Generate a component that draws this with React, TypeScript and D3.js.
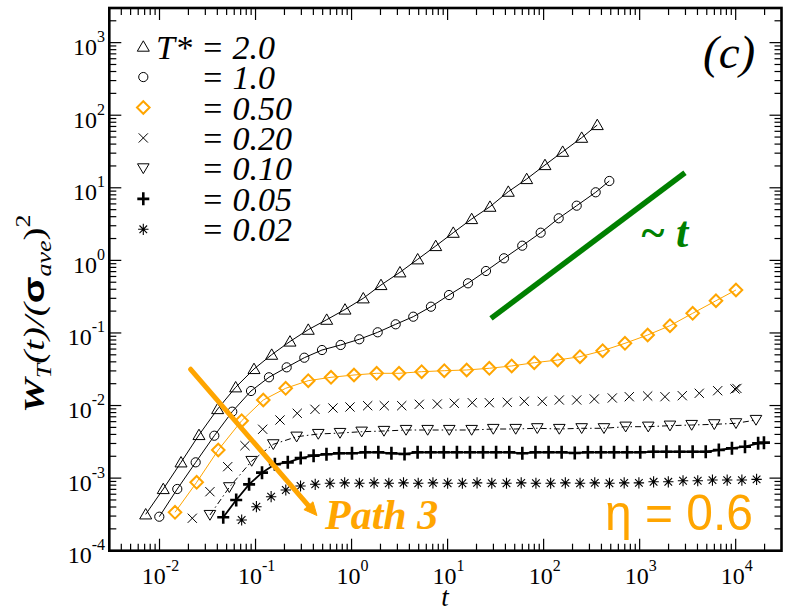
import * as d3 from "d3";

// T* = 2.0 (triangles)
const t20 = [0.00718, 0.01094, 0.01675, 0.02576, 0.0403, 0.0621, 0.0964, 0.1473, 0.2284, 0.354, 0.5507, 0.854, 1.324, 2.025, 3.19, 4.88, 7.52, 11.46, 17.81, 27.63, 42.85, 66.6, 103.3, 157.9, 249, 362];
const w20 = [3.17e-4, 7.08e-4, 1.65e-3, 3.93e-3, 8.95e-3, 0.01784, 0.0319, 0.0502, 0.0763, 0.111, 0.1523, 0.2105, 0.3003, 0.458, 0.685, 1.035, 1.578, 2.406, 3.716, 5.49, 8.84, 13.22, 20.6, 31.4, 49.0, 73.3];

// T* = 1.0 (circles)
const t10 = [0.00995, 0.01531, 0.0238, 0.0372, 0.0572, 0.0897, 0.138, 0.211, 0.322, 0.492, 0.77, 1.203, 1.871, 2.88, 4.39, 6.71, 10.34, 16.31, 25.1, 38.66, 59.9, 93.2, 143.5, 221, 348.4, 483];
const w10 = [2.94e-4, 7.08e-4, 1.65e-3, 3.84e-3, 8.23e-3, 0.01586, 0.0245, 0.0336, 0.0456, 0.0582, 0.0683, 0.0818, 0.1021, 0.1316, 0.1675, 0.23, 0.333, 0.483, 0.714, 1.068, 1.593, 2.406, 3.8, 5.67, 8.67, 12.41];

// T* = 0.50 (diamonds)
const t050 = [0.0145, 0.02438, 0.0409, 0.0717, 0.1204, 0.206, 0.354, 0.611, 1.06, 1.826, 3.12, 5.37, 9.24, 15.8, 27.2, 46.5, 79.9, 140, 239, 412, 703, 1212, 2069, 3566, 6234, 10070];
const w050 = [3.38e-4, 8.76e-4, 2.44e-3, 6.18e-3, 0.01192, 0.01728, 0.022, 0.0245, 0.02635, 0.0278, 0.0278, 0.02925, 0.0302, 0.0309, 0.0326, 0.0351, 0.0389, 0.0424, 0.0471, 0.057, 0.072, 0.0937, 0.1259, 0.1866, 0.278, 0.391];

// T* = 0.20 (crosses)
const t020 = [0.02195, 0.0335, 0.0513, 0.0776, 0.1187, 0.1797, 0.272, 0.416, 0.64, 0.963, 1.472, 2.19, 3.33, 5.07, 7.81, 11.74, 18.07, 27.2, 41.8, 62.9, 96.8, 145.6, 221, 337, 519, 780, 1212, 1835, 2779, 4178, 6494, 9833, 10300];
const w020 = [2.8e-4, 6.5e-4, 1.437e-3, 2.8e-3, 4.71e-3, 6.32e-3, 7.82e-3, 8.87e-3, 9.25e-3, 9.55e-3, 9.95e-3, 9.95e-3, 9.95e-3, 0.0104, 0.0105, 0.01074, 0.01094, 0.01094, 0.01108, 0.01144, 0.01144, 0.01192, 0.01192, 0.01231, 0.0127, 0.01323, 0.01353, 0.01323, 0.01366, 0.01475, 0.016, 0.0169, 0.0172];

// T* = 0.10 (down triangles)
const t010 = [0.0335, 0.0533, 0.0912, 0.153, 0.268, 0.45, 0.758, 1.274, 2.176, 3.69, 6.2, 10.41, 17.81, 29.9, 51.2, 85.9, 145.6, 249, 425, 715, 1229, 2069, 3482, 5986, 10070, 16270];
const w010 = [3.1e-4, 7.47e-4, 1.72e-3, 2.92e-3, 3.72e-3, 4.05e-3, 4.18e-3, 4.36e-3, 4.46e-3, 4.6e-3, 4.6e-3, 4.6e-3, 4.6e-3, 4.75e-3, 4.75e-3, 4.86e-3, 4.75e-3, 4.86e-3, 4.86e-3, 5.11e-3, 5.11e-3, 5.28e-3, 5.39e-3, 5.51e-3, 5.69e-3, 6.32e-3];

// T* = 0.05 (plus)
const t005 = [0.0461, 0.0629, 0.0857, 0.1168, 0.159, 0.2167, 0.2953, 0.4023, 0.548, 0.74, 1.01, 1.39, 1.9, 2.6, 3.56, 4.87, 6.67, 9.13, 12.5, 17.1, 23.4, 32, 43.9, 60, 82.2, 112.6, 154, 211, 289, 395, 541, 741, 1014, 1389, 1901, 2602, 3563, 4877, 6677, 9141, 12500, 17130, 19700];
const w005 = [2.89e-4, 5.0e-4, 8.2e-4, 1.19e-3, 1.55e-3, 1.65e-3, 1.89e-3, 2.04e-3, 2.13e-3, 2.2e-3, 2.2e-3, 2.27e-3, 2.27e-3, 2.2e-3, 2.15e-3, 2.27e-3, 2.27e-3, 2.27e-3, 2.27e-3, 2.27e-3, 2.27e-3, 2.27e-3, 2.27e-3, 2.2e-3, 2.27e-3, 2.27e-3, 2.27e-3, 2.22e-3, 2.27e-3, 2.27e-3, 2.27e-3, 2.27e-3, 2.27e-3, 2.31e-3, 2.31e-3, 2.31e-3, 2.31e-3, 2.31e-3, 2.44e-3, 2.58e-3, 2.71e-3, 3.02e-3, 3.08e-3];

// T* = 0.02 (stars)
const t002 = [0.0717, 0.1021, 0.1453, 0.2066, 0.2941, 0.4183, 0.5954, 0.8473, 1.206, 1.716, 2.442, 3.474, 4.944, 7.036, 10.01, 14.25, 20.27, 28.85, 41.05, 58.42, 83.13, 118.3, 168.3, 239.5, 340.8, 485, 690.2, 982, 1397, 1988, 2829, 4026, 5730, 8154, 11600, 16510];
const w002 = [2.65e-4, 4.04e-4, 5.55e-4, 6.86e-4, 7.79e-4, 8.22e-4, 8.49e-4, 8.6e-4, 8.5e-4, 8.6e-4, 8.5e-4, 8.6e-4, 8.5e-4, 8.6e-4, 8.5e-4, 8.5e-4, 8.6e-4, 8.5e-4, 8.5e-4, 8.6e-4, 8.5e-4, 8.5e-4, 8.6e-4, 8.5e-4, 8.6e-4, 8.5e-4, 8.6e-4, 8.6e-4, 8.9e-4, 8.9e-4, 9.2e-4, 9.2e-4, 9.4e-4, 9.4e-4, 9.4e-4, 9.6e-4];

const legendLabels = ["= 2.0", "= 1.0", "= 0.50", "= 0.20", "= 0.10", "= 0.05", "= 0.02"];

// "~ t" guide line and the "Path 3" arrow, in data units
const guideT = [28.3, 2965];
const guideW = [0.159, 16.1];
const arrowT = [0.0211, 0.436];
const arrowW = [0.0316, 3.05e-4];

const xTicks = [1e-2, 1e-1, 1, 10, 100, 1e3, 1e4];
const xTickExp = ["-2", "-1", "0", "1", "2", "3", "4"];
const yTicks = [1e-4, 1e-3, 1e-2, 1e-1, 1, 10, 100, 1e3];
const yTickExp = ["-4", "-3", "-2", "-1", "0", "1", "2", "3"];

const SERIF = '"Liberation Serif"';
const SANS = '"Liberation Sans"';
const ORANGE = "#ffa500";
const GREEN = "#008000";

const W = 792;
const H = 612;
const frame = { left: 109.3, right: 781.5, top: 8, bottom: 550.7 };

const x = d3.scaleLog().domain([0.003, 30000]).range([frame.left, frame.right]);
const y = d3.scaleLog().domain([1e-4, 3000]).range([frame.bottom, frame.top]);

type Kind = "triUp" | "circle" | "diamond" | "cross" | "triDown" | "plus" | "star";

function Marker({ kind, cx, cy }: { kind: Kind; cx: number; cy: number }) {
  const tr = `translate(${cx},${cy})`;
  switch (kind) {
    case "triUp":
      return <path transform={tr} d="M0,-5.8L6,4.6L-6,4.6Z" fill="none" stroke="#000" strokeWidth={1} />;
    case "circle":
      return <circle cx={cx} cy={cy} r={4.6} fill="none" stroke="#000" strokeWidth={1} />;
    case "diamond":
      return <path transform={tr} d="M0,-6.3L6.3,0L0,6.3L-6.3,0Z" fill="none" stroke={ORANGE} strokeWidth={2} />;
    case "cross":
      return <path transform={tr} d="M-4.6,-4.6L4.6,4.6M-4.6,4.6L4.6,-4.6" stroke="#000" strokeWidth={1} />;
    case "triDown":
      return <path transform={tr} d="M0,5.2L5.8,-4.6L-5.8,-4.6Z" fill="none" stroke="#000" strokeWidth={1} />;
    case "plus":
      return <path transform={tr} d="M-6,0H6M0,-6.5V6.5" stroke="#000" strokeWidth={2.6} />;
    case "star":
      return (
        <path
          transform={tr}
          d="M-5.2,0H5.2M0,-5.6V5.6M-3.8,-3.8L3.8,3.8M-3.8,3.8L3.8,-3.8"
          stroke="#000"
          strokeWidth={1.1}
        />
      );
  }
}

interface Series {
  t: number[];
  w: number[];
  kind: Kind;
  line: { color: string; width: number; dash?: string } | null;
}

const series: Series[] = [
  { t: t20, w: w20, kind: "triUp", line: { color: "#000", width: 1 } },
  { t: t10, w: w10, kind: "circle", line: { color: "#000", width: 1 } },
  { t: t050, w: w050, kind: "diamond", line: { color: ORANGE, width: 1 } },
  { t: t020, w: w020, kind: "cross", line: null },
  { t: t010, w: w010, kind: "triDown", line: { color: "#000", width: 1, dash: "6,3,1.5,3" } },
  { t: t005, w: w005, kind: "plus", line: { color: "#000", width: 1.8 } },
  { t: t002, w: w002, kind: "star", line: null },
];

function minorTicks(domain: number[]) {
  const out: number[] = [];
  const lo = Math.floor(Math.log10(domain[0]));
  const hi = Math.ceil(Math.log10(domain[1]));
  for (let e = lo; e <= hi; e++) {
    for (let k = 2; k <= 9; k++) {
      const v = k * Math.pow(10, e);
      if (v > domain[0] && v < domain[1]) out.push(v);
    }
  }
  return out;
}

export default function App() {
  const line = d3
    .line<[number, number]>()
    .x((d) => x(d[0]))
    .y((d) => y(d[1]));

  const xMinor = minorTicks(x.domain());
  const yMinor = minorTicks(y.domain());

  // arrow geometry
  const ax0 = x(arrowT[0]);
  const ay0 = y(arrowW[0]);
  const ax1 = x(arrowT[1]);
  const ay1 = y(arrowW[1]);
  const ang = Math.atan2(ay1 - ay0, ax1 - ax0);
  const headLen = 13;
  const headHalf = 6;
  const bx = ax1 - headLen * Math.cos(ang);
  const by = ay1 - headLen * Math.sin(ang);
  const px = -Math.sin(ang) * headHalf;
  const py = Math.cos(ang) * headHalf;

  const serif = { fontFamily: SERIF };

  return (
    <div style={{ position: "fixed", left: 0, top: 0 }}>
      <svg width={W} height={H} style={{ display: "block", background: "#fff" }}>
        {/* ticks */}
        <g stroke="#000" strokeWidth={1.2}>
          {xTicks.map((v) => (
            <g key={`xm${v}`}>
              <line x1={x(v)} x2={x(v)} y1={frame.bottom} y2={frame.bottom - 12} />
              <line x1={x(v)} x2={x(v)} y1={frame.top} y2={frame.top + 12} />
            </g>
          ))}
          {xMinor.map((v) => (
            <g key={`xn${v}`}>
              <line x1={x(v)} x2={x(v)} y1={frame.bottom} y2={frame.bottom - 7} />
              <line x1={x(v)} x2={x(v)} y1={frame.top} y2={frame.top + 7} />
            </g>
          ))}
          {yTicks.map((v) => (
            <g key={`ym${v}`}>
              <line x1={frame.left} x2={frame.left + 12} y1={y(v)} y2={y(v)} />
              <line x1={frame.right} x2={frame.right - 12} y1={y(v)} y2={y(v)} />
            </g>
          ))}
          {yMinor.map((v) => (
            <g key={`yn${v}`}>
              <line x1={frame.left} x2={frame.left + 7} y1={y(v)} y2={y(v)} />
              <line x1={frame.right} x2={frame.right - 7} y1={y(v)} y2={y(v)} />
            </g>
          ))}
        </g>

        {/* tick labels */}
        <g fontSize={24} fill="#000">
          {xTicks.map((v, i) => (
            <text key={`xl${v}`} x={x(v) + 1} y={584} textAnchor="middle" style={serif}>
              10
              <tspan fontSize={16} dy={-13}>
                {xTickExp[i]}
              </tspan>
            </text>
          ))}
          {yTicks.map((v, i) => (
            <text key={`yl${v}`} x={105} y={y(v) + 12.5} textAnchor="end" style={serif}>
              10
              <tspan fontSize={16} dy={-13}>
                {yTickExp[i]}
              </tspan>
            </text>
          ))}
        </g>

        {/* data */}
        {series.map((s, i) => {
          const pts = s.t.map((t, j) => [t, s.w[j]] as [number, number]);
          return (
            <g key={`s${i}`}>
              {s.line && (
                <path
                  d={line(pts) ?? ""}
                  fill="none"
                  stroke={s.line.color}
                  strokeWidth={s.line.width}
                  strokeDasharray={s.line.dash}
                />
              )}
              {pts.map((p, j) => (
                <Marker key={j} kind={s.kind} cx={x(p[0])} cy={y(p[1])} />
              ))}
            </g>
          );
        })}

        {/* ~t guide */}
        <line
          x1={x(guideT[0])}
          y1={y(guideW[0])}
          x2={x(guideT[1])}
          y2={y(guideW[1])}
          stroke={GREEN}
          strokeWidth={5.5}
        />

        {/* Path 3 arrow */}
        <line x1={ax0} y1={ay0} x2={bx} y2={by} stroke={ORANGE} strokeWidth={5} strokeLinecap="round" />
        <path
          d={`M${ax1},${ay1}L${bx + px},${by + py}L${bx - px},${by - py}Z`}
          fill={ORANGE}
          stroke={ORANGE}
          strokeWidth={1}
        />

        {/* frame */}
        <rect
          x={frame.left}
          y={frame.top}
          width={frame.right - frame.left}
          height={frame.bottom - frame.top}
          fill="none"
          stroke="#000"
          strokeWidth={2.6}
        />

        {/* legend */}
        {series.map((s, i) => {
          const ly = 46.6 + i * 30.45;
          return (
            <g key={`lg${i}`}>
              <Marker kind={s.kind} cx={143.3} cy={ly} />
              {i === 0 && (
                <text x={156} y={ly + 12} style={serif} fontStyle="italic" fontSize={34}>
                  T*
                </text>
              )}
              <text x={201} y={ly + 12} style={serif} fontStyle="italic" fontSize={34}>
                {legendLabels[i]}
              </text>
            </g>
          );
        })}

        {/* annotations */}
        <text x={703} y={68} style={serif} fontStyle="italic" fontSize={47}>
          (c)
        </text>
        <text x={640} y={247} style={serif} fontStyle="italic" fontWeight="bold" fontSize={44} fill={GREEN}>
          ~ t
        </text>
        <text x={325} y={529} style={serif} fontStyle="italic" fontWeight="bold" fontSize={42} fill={ORANGE}>
          Path 3
        </text>
        <text
          x={605}
          y={530}
          style={{ fontFamily: SANS }}
          fontSize={50}
          fill={ORANGE}
          textLength={148}
          lengthAdjust="spacingAndGlyphs"
        >
          η = 0.6
        </text>

        {/* axis titles */}
        <text x={445} y={606} textAnchor="middle" style={serif} fontStyle="italic" fontSize={27}>
          t
        </text>
        <text transform="translate(44,413) rotate(-90) scale(1.3,1)" style={serif} fontSize={30}>
          <tspan fontWeight="bold" fontStyle="italic">W</tspan>
          <tspan fontStyle="italic" fontSize={20} dy={7}>T</tspan>
          <tspan fontStyle="italic" dy={-7}>(t)/(</tspan>
          <tspan style={{ fontFamily: SANS }} fontWeight="bold">σ</tspan>
          <tspan fontStyle="italic" fontSize={20} dy={7}>ave</tspan>
          <tspan dy={-7}>)</tspan>
          <tspan fontSize={20} dy={-14}>2</tspan>
        </text>
      </svg>
    </div>
  );
}
